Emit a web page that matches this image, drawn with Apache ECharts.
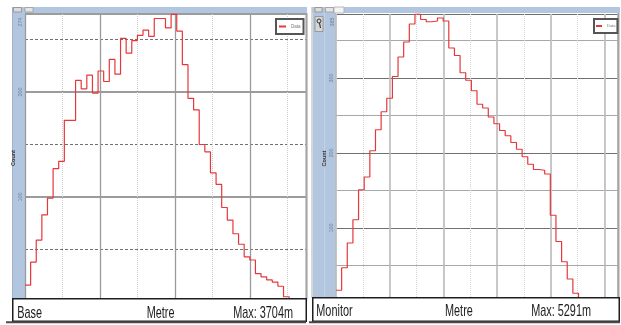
<!DOCTYPE html>
<html>
<head>
<meta charset="utf-8">
<script src="https://cdn.jsdelivr.net/npm/echarts@6/dist/echarts.min.js"></script>
<style>
  html, body { margin: 0; padding: 0; background: #fff; }
  #chart { width: 621px; height: 325px; }
</style>
</head>
<body>
<div id="chart"></div>
<script>
// Distance histograms: count per distance bin for the two surveys.
const baseCounts = [16, 38, 59, 83, 99, 127, 134, 173, 173, 211, 203, 216, 199, 220, 210, 231,
  217, 251, 237, 249, 254, 259, 253, 270, 270, 261, 274, 258, 226, 194, 183, 150, 143, 123,
  112, 90, 78, 65, 55, 43, 40, 27, 24, 21, 19, 15, 5];
const monitorCounts = [17, 47, 80, 111, 151, 168, 203, 231, 255, 273, 302, 328, 348, 372, 385,
  378, 375, 376, 380, 376, 340, 330, 307, 297, 283, 265, 260, 248, 239, 230, 223, 214, 205, 195,
  185, 178, 177, 172, 117, 82, 55, 32, 13];

// Count tick labels shown in each side strip
const baseCountTicks = [100, 200];
const monitorCountTicks = [100, 200, 300];

// Panel texts
const baseTitle = 'Base';
const monitorTitle = 'Monitor';
const distanceLabel = 'Metre';
const baseMaxText = 'Max: 3704m';
const monitorMaxText = 'Max: 5291m';
const countName = 'Count';
const legendName = 'Data';

// Axis extents
const binSpan = 50;
const baseCountMax = 274.3;
const monitorCountMax = 385.3;

const RED = '#e5383b';
const STRIP = '#b3c6df';
const SMALL_FONT = 'Liberation Sans, Arial, sans-serif';

// Histogram outline: each bin starts at its index; close the last bin and drop to zero.
function stepPoints(counts) {
  const pts = counts.map((c, i) => [i, c]);
  pts.push([counts.length, counts[counts.length - 1]]);
  pts.push([counts.length, 0]);
  return pts;
}

function gridAxis(dim, gridIndex, max, interval, line, extra) {
  return Object.assign({
    type: 'value', gridIndex, min: 0, max, interval,
    position: dim === 'x' ? 'bottom' : 'left',
    axisLine: { show: false }, axisTick: { show: false }, axisLabel: { show: false },
    splitLine: { show: true, lineStyle: line }
  }, extra || {});
}

function countAxis(gridIndex, max, ticks) {
  return gridAxis('y', gridIndex, max, 100,
    { color: gridIndex === 0 ? '#9c9c9c' : '#707070', width: gridIndex === 0 ? 2 : 1 }, {
    axisLabel: {
      show: true, rotate: 90, margin: gridIndex === 0 ? 2 : 1.5, fontSize: 5.5, color: '#6f7f96',
      fontFamily: SMALL_FONT,
      showMaxLabel: false, showMinLabel: false,
      formatter: v => (ticks.indexOf(v) >= 0 ? String(v) : '')
    },
    name: countName, nameLocation: 'middle', nameRotate: 90, nameGap: gridIndex === 0 ? 6 : 7,
    nameTextStyle: { fontSize: 5.5, fontWeight: 'bold', color: '#333', fontFamily: SMALL_FONT }
  });
}

function caption(text, x, y, align) {
  return {
    type: 'text', x, y, scaleX: 0.68, scaleY: 1.05, z: 110, silent: true,
    style: {
      text, x: 0, y: 0, fill: '#1c1c1c', textAlign: align || 'left', textVerticalAlign: 'middle',
      font: '16px "Liberation Sans", Arial, sans-serif'
    }
  };
}

function rect(x, y, w, h, fill, stroke, lw, z) {
  return { type: 'rect', z: z == null ? 100 : z, silent: true, shape: { x, y, width: w, height: h },
    style: { fill, stroke: stroke || null, lineWidth: lw || 0 } };
}

function line(x1, y1, x2, y2, color, w, z) {
  return { type: 'line', z: z == null ? 100 : z, silent: true, shape: { x1, y1, x2, y2 },
    style: { stroke: color, lineWidth: w } };
}

function stripText(text, x, y) {
  return { type: 'text', x, y, rotation: Math.PI / 2, z: 5, silent: true,
    style: { text, fill: '#6f7f96', textAlign: 'center', textVerticalAlign: 'middle',
      font: '5.5px "Liberation Sans", Arial, sans-serif' } };
}

const chart = echarts.init(document.getElementById('chart'), null, { renderer: 'canvas' });

chart.setOption({
  animation: false,
  backgroundColor: '#fff',
  grid: [
    { left: 25, top: 14, width: 281, height: 288 },
    { left: 336, top: 14, width: 282, height: 289 }
  ],
  xAxis: [
    gridAxis('x', 0, binSpan, binSpan / 7.5, { color: '#cdcdcd', type: 'dotted', width: 1 }),
    gridAxis('x', 0, binSpan, binSpan / 3.75, { color: '#9a9a9a', width: 1.3 }),
    gridAxis('x', 1, binSpan, binSpan / 10.5, { color: '#d6d6d6', type: 'dotted', width: 1 }),
    gridAxis('x', 1, binSpan, binSpan / 5.25, { color: '#bcbcbc', width: 1.6 })
  ],
  yAxis: [
    gridAxis('y', 0, baseCountMax, 50, { color: '#707070', type: [3, 2], width: 1 }),
    countAxis(0, baseCountMax, baseCountTicks),
    gridAxis('y', 1, monitorCountMax, 50, { color: '#a8a8a8', width: 1 }),
    countAxis(1, monitorCountMax, monitorCountTicks)
  ],
  legend: [
    {
      data: [legendName], left: 276, top: 19, orient: 'horizontal',
      icon: 'rect', itemWidth: 7, itemHeight: 2, itemGap: 2,
      padding: [5, 3, 5, 3], backgroundColor: '#fff', borderColor: '#555', borderWidth: 2,
      textStyle: { fontSize: 4.5, color: '#777', fontFamily: SMALL_FONT },
      selectedMode: false
    },
    {
      data: [legendName], left: 594, top: 19, orient: 'horizontal',
      icon: 'rect', itemWidth: 6, itemHeight: 2, itemGap: 2,
      padding: [5, 2, 5, 2], backgroundColor: '#fff', borderColor: '#555', borderWidth: 2,
      textStyle: { fontSize: 4, color: '#777', fontFamily: SMALL_FONT },
      selectedMode: false
    }
  ],
  series: [
    {
      name: legendName, type: 'line', step: 'end', xAxisIndex: 1, yAxisIndex: 1,
      data: stepPoints(baseCounts), showSymbol: false, symbol: 'none', clip: false,
      color: RED, lineStyle: { color: RED, width: 1.2 }
    },
    {
      name: legendName, type: 'line', step: 'end', xAxisIndex: 3, yAxisIndex: 3,
      data: stepPoints(monitorCounts), showSymbol: false, symbol: 'none', clip: false,
      color: RED, lineStyle: { color: RED, width: 1.2 }
    }
  ],
  graphic: [
    // window chrome behind the axes: title bars, buttons, side strips, borders
    rect(12, 7, 295, 6, STRIP, null, 0, -3),
    rect(13.5, 7.5, 8, 4.5, '#dcdcdc', '#8a8a8a', 0.8, -2),
    rect(25, 7.5, 8, 4.5, '#e4e4e4', '#9a9a9a', 0.8, -2),
    rect(12, 13, 13, 286, STRIP, null, 0, -3),
    line(12.5, 7, 12.5, 299, '#9fb3cf', 1, -2),
    line(306.5, 13, 306.5, 299, '#a4a4a4', 2, 3),

    rect(312, 7, 308, 6, STRIP, null, 0, -3),
    rect(315, 7.5, 7, 4.5, '#dcdcdc', '#8a8a8a', 0.8, -2),
    rect(325.5, 7.5, 8, 4.5, '#e4e4e4', '#9a9a9a', 0.8, -2),
    rect(334, 7, 10, 6, '#f4f4f4', '#a8a8a8', 0.8, -2),
    line(312, 7, 312, 298, '#c8c8c8', 1.5, -2),
    rect(313, 13, 23, 285, STRIP, null, 0, -3),
    line(324.5, 13, 324.5, 297, '#c3d2e6', 1, -2),
    rect(315, 16.5, 8, 15, '#d6d6d6', '#8c8c8c', 0.8, 3),
    { type: 'circle', z: 4, silent: true, shape: { cx: 319, cy: 21, r: 2 }, style: { fill: 'none', stroke: '#333', lineWidth: 1 } },
    line(319.5, 23, 320.5, 28, '#333', 1.2, 4),
    line(618.5, 13, 618.5, 298, '#a4a4a4', 2, 3),

    // tiny labels at the top of the side strips
    stripText(String(Math.round(baseCountMax)), 20, 22),
    stripText(String(Math.round(monitorCountMax)), 332, 22),

    // caption boxes
    rect(12.75, 298.75, 293.5, 22.5, '#fff', '#1e1e1e', 1.5, 100),
    line(6, 322.3, 306, 322.3, '#4a4a4a', 2, 100),
    rect(312.75, 297.75, 306.5, 23.5, '#fff', '#1e1e1e', 1.5, 100),
    line(309, 322.3, 620, 322.3, '#4a4a4a', 2, 100),

    caption(baseTitle, 17.3, 313.3),
    caption(distanceLabel, 146.7, 313.3),
    caption(baseMaxText, 293, 313.3, 'right'),
    caption(monitorTitle, 316.3, 311.7),
    caption(distanceLabel, 445, 311.7),
    caption(monitorMaxText, 591, 311.7, 'right')
  ]
});
</script>
</body>
</html>
